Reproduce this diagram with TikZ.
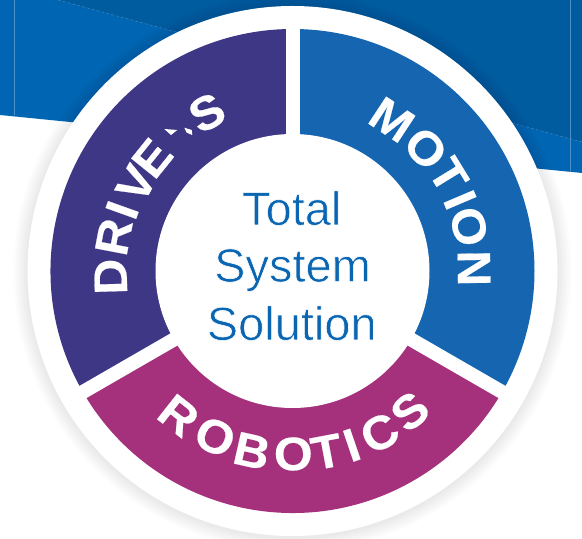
\documentclass[tikz,border=0pt]{standalone}
\usepackage{fontspec}
\setmainfont{Liberation Sans}
\newfontfamily\ltrfont[UprightFont=* Bold,FakeStretch=1.06,FakeBold=0.4]{Liberation Sans}
\definecolor{bgdark}{HTML}{005C9F}
\definecolor{bglight}{HTML}{0066B3}
\definecolor{bgline}{HTML}{4D8FC6}
\definecolor{purp}{HTML}{3E3785}
\definecolor{blu}{HTML}{1565B0}
\definecolor{magen}{HTML}{A5317C}
\definecolor{txt}{HTML}{0A66B2}
\newcommand{\thintext}[1]{\special{pdf:code 2 Tr 0.6 w 1 1 1 RG}#1\special{pdf:code 0 Tr 0 w}}
\tikzset{
  x=1pt,y=1pt,
  ltr/.style={text=white,font=\ltrfont\fontsize{47}{47}\selectfont,inner sep=0pt,anchor=center},
  mid/.style={text=txt,font=\fontsize{47}{47}\selectfont,inner sep=0pt,anchor=base},
  gapline/.style={draw=white,line width=14pt},
  hairline/.style={draw=bgline,line width=.4pt},
}
\def\cx{292.5}\def\cy{268}
\newcommand{\topltr}[4]{\node[ltr,rotate=#1-90] (#4) at ({\cx+#2*cos(#1)},{\cy+#2*sin(#1)}) {#3};}
\newcommand{\botltr}[4]{\node[ltr,rotate=#1+90] (#4) at ({\cx+#2*cos(#1)},{\cy+#2*sin(#1)}) {#3};}
\begin{document}
\begin{tikzpicture}
\useasboundingbox (0,0) rectangle (582,539);
\fill[white] (0,0) rectangle (582,539);
\fill[bglight] (0,539) -- (582,539) -- (582,366) -- (0,424) -- cycle;
\fill[bgdark] (58,539) -- (582,397) -- (582,539) -- cycle;
\draw[hairline,densely dashed] (58,539) -- (582,397);
\draw[hairline] (14,539) -- (14,424);
\draw[hairline] (570,539) -- (570,367);
\foreach \r in {279,277,275,273,271,269,267}{
  \fill[black,opacity=.012] (\cx,\cy-1) circle (\r);
}
\fill[white] (\cx,\cy) circle (265);
\coordinate (c) at (\cx,\cy);
\fill[purp] (c) -- ++(210:242) arc[start angle=210,end angle=90,radius=242] -- cycle;
\fill[blu] (c) -- ++(90:242) arc[start angle=90,end angle=-30,radius=242] -- cycle;
\fill[magen] (c) -- ++(210:242) arc[start angle=210,end angle=330,radius=242] -- cycle;
\draw[gapline] (c) -- ++(90:250);
\draw[gapline] (c) -- ++(210:250);
\draw[gapline] (c) -- ++(330:250);
\fill[white] (c) circle (137);
% centre
\node[mid] (total) at (291.7,314) {\thintext{Total}};
\node[mid] (system) at (292.5,257.3) {\thintext{System}};
\node[mid] (solution) at (291.7,199) {\thintext{Solution}};
% DRIVES
\topltr{181.8}{182}{D}{d1}
\topltr{169.2}{182}{R}{d2}
\topltr{160.3}{181}{I}{d3}
\topltr{150.9}{179}{V}{d4}
\topltr{141.2}{180}{E}{d5}
\topltr{118.4}{180}{S}{d7}
\fill[white] (164.3,410) -- (177.3,409) -- (171,404) -- cycle;
\fill[white] (184.3,411.3) -- (191.7,409) -- (192.3,404) -- (186.7,406.3) -- cycle;
% MOTION
\topltr{56.7}{181}{M}{m1}
\topltr{42.6}{181}{O}{m2}
\topltr{31.5}{183}{T}{m3}
\topltr{23}{182}{I}{m4}
\topltr{14.1}{182}{O}{m5}
\topltr{0.85}{181.5}{N}{m6}
% ROBOTICS
\botltr{231.8}{184}{R}{r1}
\botltr{245}{183}{O}{r2}
\botltr{257.3}{184.5}{B}{r3}
\botltr{270.25}{183}{O}{r4}
\botltr{280.7}{184}{T}{r5}
\botltr{288.8}{184}{I}{r6}
\botltr{298.3}{184}{C}{r7}
\botltr{309.9}{183}{S}{r8}
\end{tikzpicture}
\end{document}
